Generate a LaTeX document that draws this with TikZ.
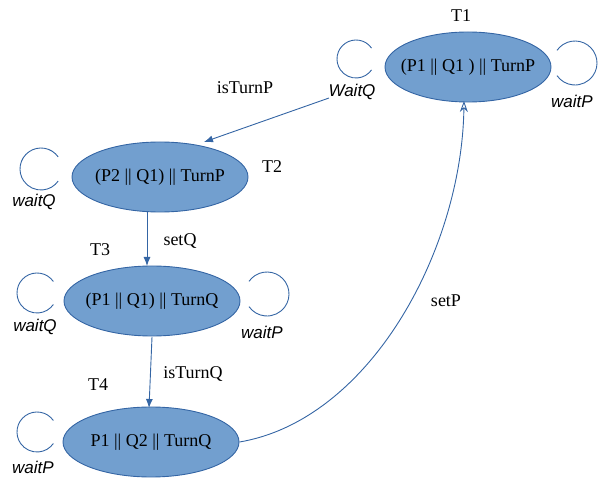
\documentclass[tikz,border=0pt]{standalone}
\usepackage{fontspec}
\setmainfont{Liberation Serif}
\setsansfont{Liberation Sans}
\usetikzlibrary{arrows.meta,shapes.geometric}
\definecolor{stfill}{RGB}{114,159,207}
\definecolor{stline}{RGB}{52,101,164}
\tikzset{
  state/.style={ellipse, draw=stline, line width=0.9pt, fill=stfill, minimum width=176pt, minimum height=70pt, inner xsep=-15pt, inner ysep=0pt, font=\fontsize{18}{20}\selectfont},
  loopline/.style={draw=stline, line width=0.9pt},
  looplabel/.style={font=\sffamily\itshape\fontsize{17}{20}\selectfont},
  tag/.style={font=\fontsize{18}{20}\selectfont},
  trans/.style={draw=stline, line width=0.9pt, -{Latex[length=9pt,width=7pt]}},
  translabel/.style={font=\fontsize{18}{20}\selectfont}
}
\begin{document}
\begin{tikzpicture}[x=1pt, y=-1pt]
  \useasboundingbox (0,0) rectangle (598,481);
  % states
  \node[state, minimum width=166pt] (t1) at (468,67) {(P1 || Q1 ) || TurnP};
  \node[state] (t2) at (160,177) {(P2 || Q1) || TurnP};
  \node[state] (t3) at (152,301) {(P1 || Q1) || TurnQ};
  \node[state] (t4) at (151,442) {P1 || Q2 || TurnQ};
  % state names
  \node[tag] (n1) at (461,16) {T1};
  \node[tag] (n2) at (272,167) {T2};
  \node[tag] (n3) at (100,250) {T3};
  \node[tag] (n4) at (98,385) {T4};
  % self loops, open towards their state
  \coordinate (l1a) at (356,59);
  \coordinate (l1b) at (575,63);
  \coordinate (l2a) at (41,169);
  \coordinate (l3a) at (37,293);
  \coordinate (l3b) at (267,294);
  \coordinate (l4a) at (37,432);
  \draw[loopline] ([shift={(35:19pt)}]l1a) arc (35:325:19pt);
  \draw[loopline] ([shift={(145:22pt)}]l1b) arc (145:-145:22pt);
  \draw[loopline] ([shift={(35:21pt)}]l2a) arc (35:325:21pt);
  \draw[loopline] ([shift={(35:20pt)}]l3a) arc (35:325:20pt);
  \draw[loopline] ([shift={(145:22pt)}]l3b) arc (145:-145:22pt);
  \draw[loopline] ([shift={(35:20pt)}]l4a) arc (35:325:20pt);
  % loop labels
  \node[looplabel] (w1a) at (352,92) {WaitQ};
  \node[looplabel] (w1b) at (572,101) {waitP};
  \node[looplabel] (w2a) at (34,202) {waitQ};
  \node[looplabel] (w3a) at (35,327) {waitQ};
  \node[looplabel] (w3b) at (262,332) {waitP};
  \node[looplabel] (w4a) at (33,467) {waitP};
  % transitions
  \coordinate (s1) at (329,98);
  \coordinate (e1) at (204,142);
  \coordinate (a2) at (147,212);
  \coordinate (a3) at (147,266);
  \coordinate (b3) at (152,337);
  \coordinate (b4) at (149,408);
  \coordinate (a1) at (464,101);
  \draw[trans] (s1) -- (e1);
  \node[translabel] (lp) at (245,88) {isTurnP};
  \draw[trans] (a2) -- (a3);
  \node[translabel] (lq) at (180,241) {setQ};
  \draw[trans] (b3) -- (b4);
  \node[translabel] (lr) at (193,374) {isTurnQ};
  \draw[draw=stline, line width=0.9pt, -{Stealth[open, length=11pt, width=8pt]}] (t4.east) .. controls (370,420) and (462,250) .. (a1);
  \node[translabel] (ls) at (446,301) {setP};
\end{tikzpicture}
\end{document}
